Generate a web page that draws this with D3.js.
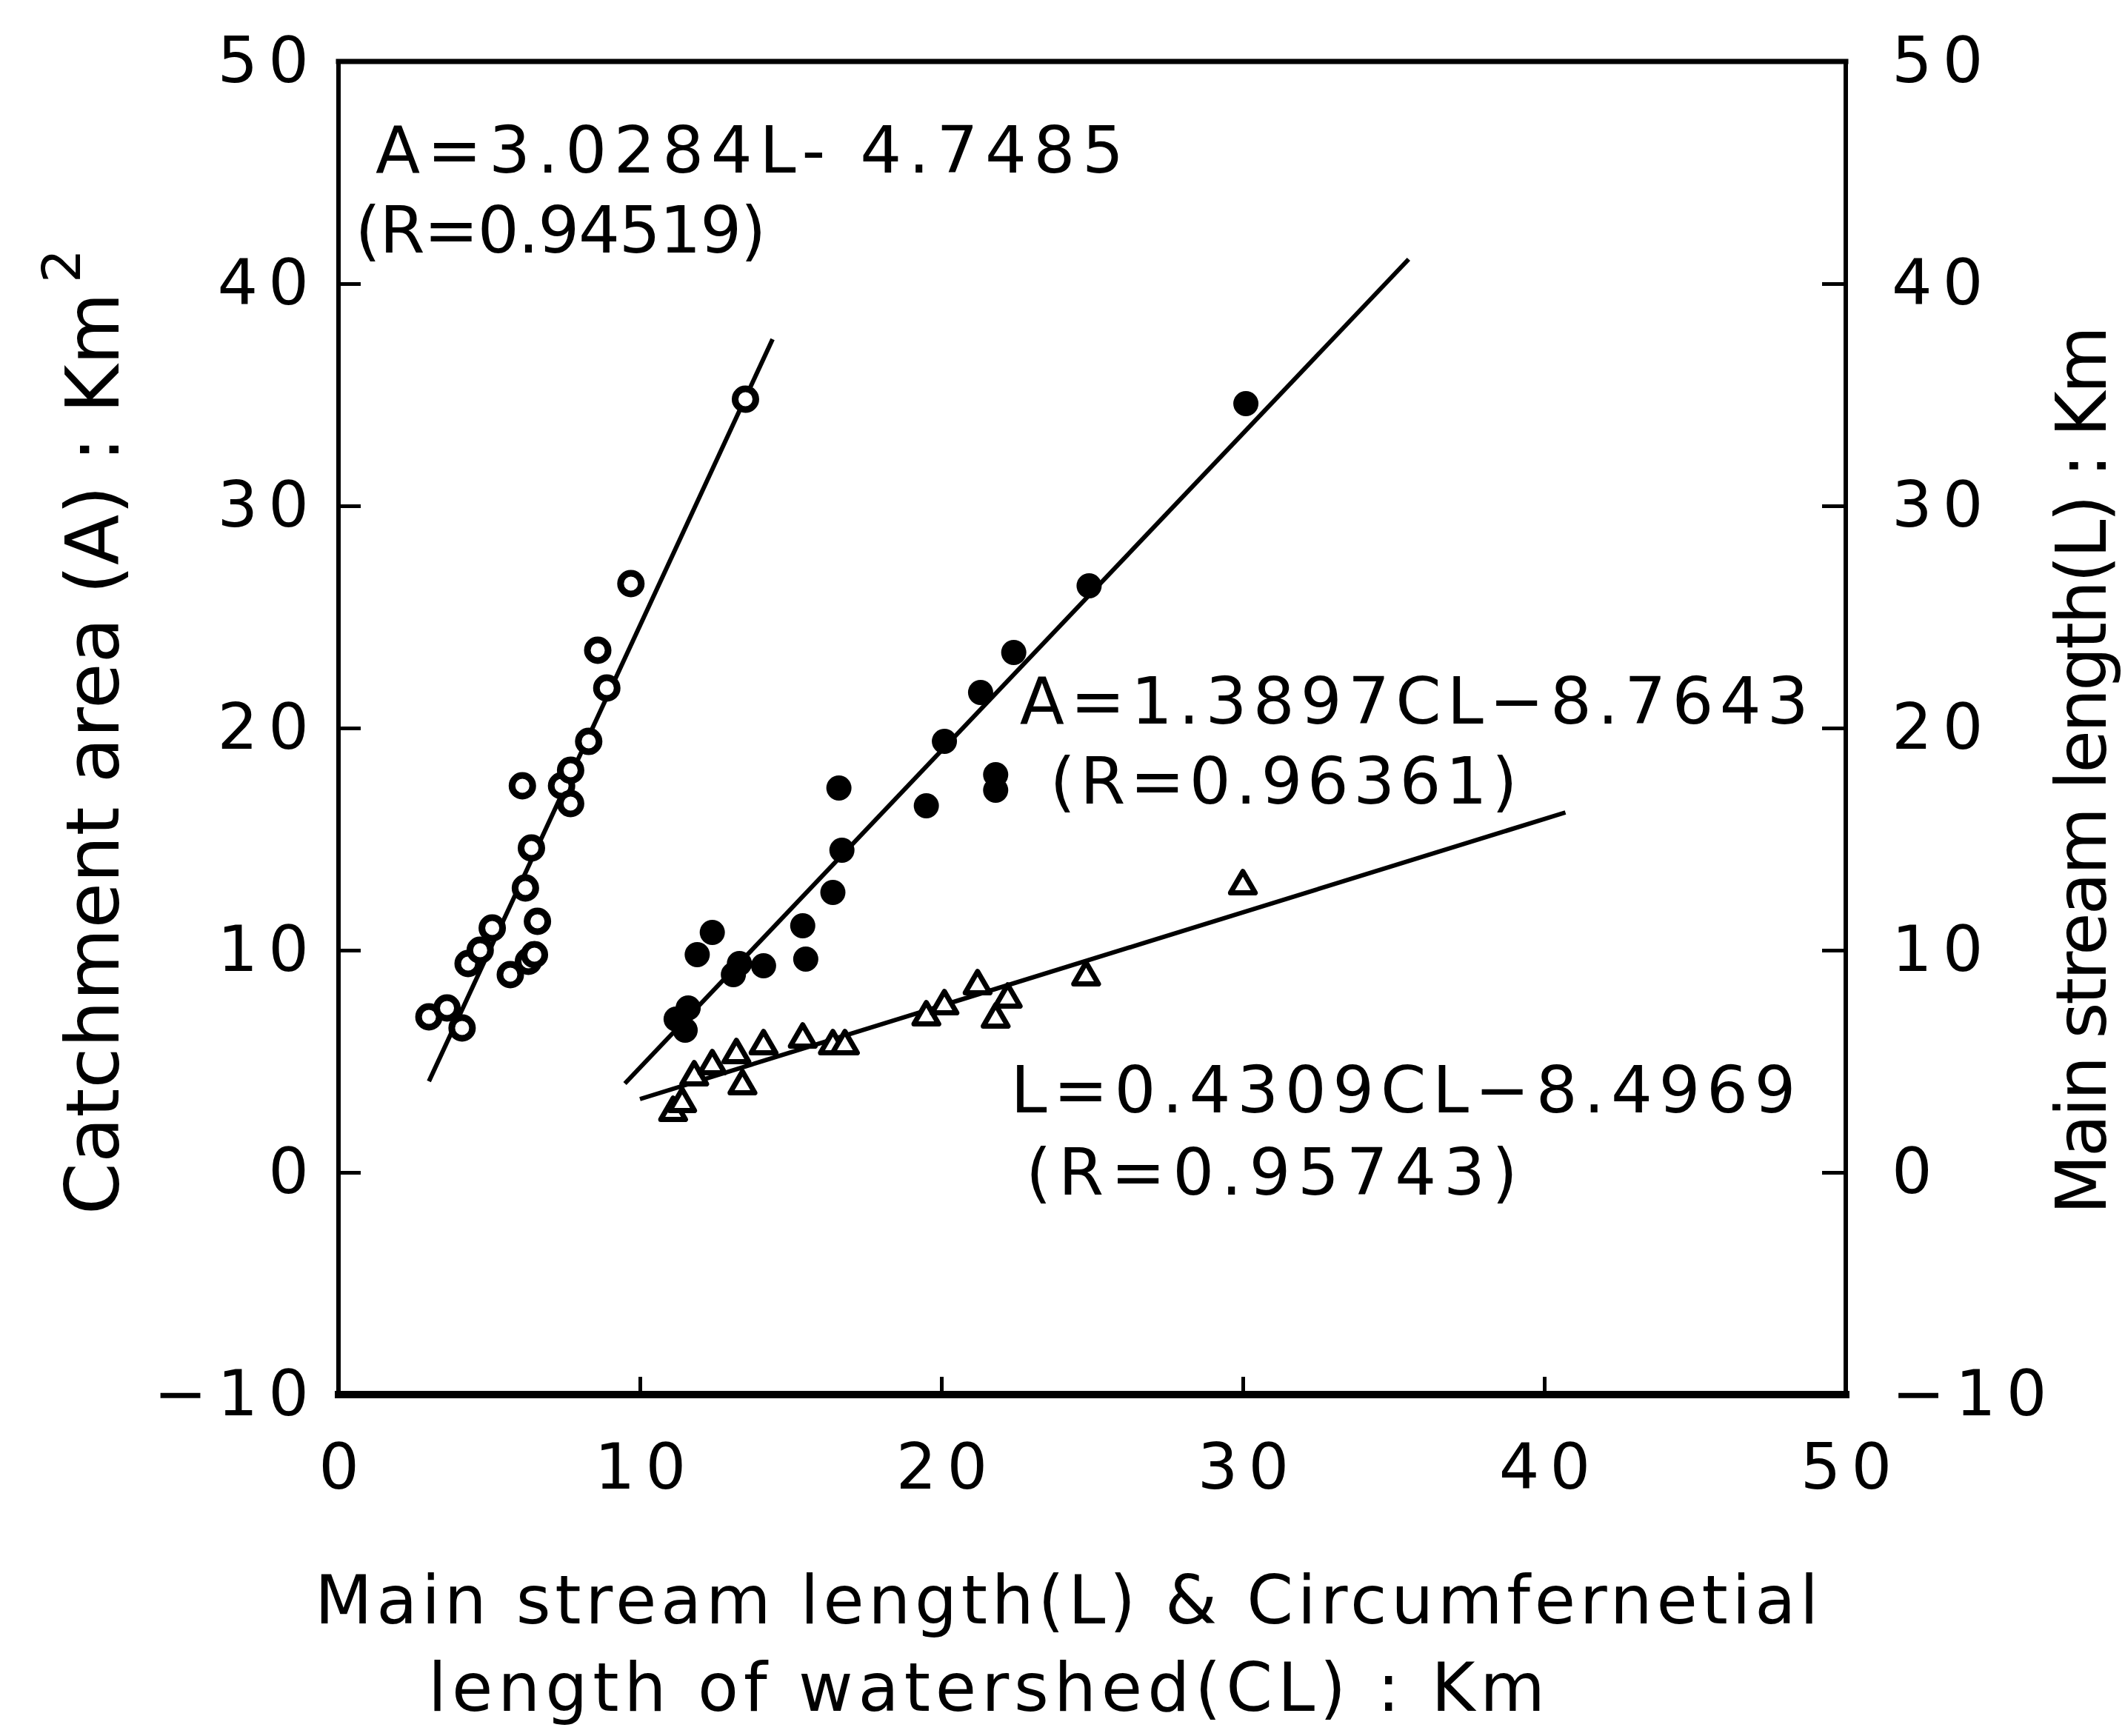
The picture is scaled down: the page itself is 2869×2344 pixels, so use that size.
<!DOCTYPE html>
<html>
  <head>
    <meta charset="utf-8">
    <title>Catchment area vs stream length</title>
    <script src="https://cdn.jsdelivr.net/npm/d3@7"></script>
    <style>
      body { margin: 0; background: #fff; }
      text { font-family: 'DejaVu Sans', sans-serif; fill: #000; }
    </style>
  </head>
  <body>
    <svg width='2869' height='2344'></svg>
    <script>
      // ---- data ----
      // open circles : main stream length L (km) vs catchment area A (km2)
      const openL = [3.0, 3.6, 4.1, 4.3, 4.7, 5.1, 5.7, 6.3, 6.5, 6.6, 6.2, 6.4, 6.1, 7.4, 7.7, 7.7, 8.3, 8.9, 8.6, 9.7, 13.5];
      const openA = [7.0, 7.4, 6.5, 9.4, 10.0, 11.0, 8.9, 9.5, 9.8, 11.3, 12.8, 14.6, 17.4, 17.4, 18.1, 16.6, 19.4, 21.8, 23.5, 26.5, 34.8];
      // filled circles : circumferential length CL vs catchment area A
      const fillCL = [11.2, 11.5, 11.6, 11.9, 12.4, 13.1, 13.3, 14.1, 15.4, 15.5, 16.4, 16.7, 16.6, 19.5, 20.1, 21.3, 21.8, 21.8, 22.4, 24.9, 30.1];
      const fillA  = [6.9, 6.4, 7.4, 9.8, 10.8, 8.9, 9.4, 9.3, 11.1, 9.6, 12.6, 14.5, 17.3, 16.5, 19.4, 21.6, 17.9, 17.2, 23.4, 26.4, 34.6];
      // triangles : circumferential length CL vs main stream length L (right axis)
      const triCL = [11.1, 11.4, 11.8, 12.4, 13.2, 13.4, 14.1, 15.4, 16.4, 16.8, 19.5, 20.1, 21.2, 21.8, 22.2, 24.8, 30.0];
      const triL  = [2.7, 3.1, 4.3, 4.8, 5.3, 3.9, 5.7, 6.0, 5.7, 5.7, 7.0, 7.5, 8.4, 6.9, 7.8, 8.8, 12.9];

      // fitted lines, drawn end points [x0, y0, x1, y1]
      const openFit = [3.0, 4.1, 14.4, 37.5];
      const fillFit = [9.5, 4.0, 35.5, 41.1];
      const triFit  = [10.0, 3.3, 40.7, 16.2];

      const equations = ['A=3.0284L- 4.7485', '(R=0.94519)', 'A=1.3897CL\u22128.7643', '(R=0.96361)', 'L=0.4309CL\u22128.4969', '(R=0.95743)'];

      const xTicks = [0, 10, 20, 30, 40, 50];
      const yTicks = [-10, 0, 10, 20, 30, 40, 50];

      const xTitle1 = 'Main stream length(L) & Circumfernetial';
      const xTitle2 = 'length of watershed(CL) : Km';
      const yTitleLeft = 'Catchment area (A) : Km';
      const yTitleRight = 'Main stream length(L) : Km';

      // ---- layout ----
      const svg = d3.select('svg');
      const x = d3.scaleLinear().domain([0, 50]).range([457, 2492]);
      const y = d3.scaleLinear().domain([-10, 50]).range([1883, 83]);

      // frame
      const frame = svg.append('g').attr('stroke', '#000').attr('stroke-linecap', 'square');
      frame.append('line').attr('x1', x(0)).attr('x2', x(50)).attr('y1', y(50)).attr('y2', y(50)).attr('stroke-width', 7);
      frame.append('line').attr('x1', x(0)).attr('x2', x(50)).attr('y1', y(-10)).attr('y2', y(-10)).attr('stroke-width', 10);
      frame.append('line').attr('x1', x(0)).attr('x2', x(0)).attr('y1', y(50)).attr('y2', y(-10)).attr('stroke-width', 6);
      frame.append('line').attr('x1', x(50)).attr('x2', x(50)).attr('y1', y(50)).attr('y2', y(-10)).attr('stroke-width', 6);

      // axes (ticks point inward)
      const styleAxis = g => {
        g.select('.domain').remove();
        g.selectAll('.tick line').attr('stroke', '#000').attr('stroke-width', 5);
        g.selectAll('.tick text')
          .attr('font-family', "'DejaVu Sans', sans-serif")
          .attr('font-size', 86)
          .attr('letter-spacing', 14)
          .attr('fill', '#000');
      };
      svg.append('g')
        .attr('transform', `translate(${x(0)},0)`)
        .call(d3.axisLeft(y).tickValues(yTicks).tickSize(-30).tickPadding(26))
        .call(styleAxis);
      svg.append('g')
        .attr('transform', `translate(${x(50)},0)`)
        .call(d3.axisRight(y).tickValues(yTicks).tickSize(-32).tickPadding(62))
        .call(styleAxis);
      svg.append('g')
        .attr('transform', `translate(0,${y(-10)})`)
        .call(d3.axisBottom(x).tickValues(xTicks).tickSize(-24).tickPadding(66))
        .call(styleAxis)
        .call(g => g.selectAll('.tick text').attr('dx', 7));

      // fit lines
      const fits = [openFit, fillFit, triFit];
      svg.append('g').selectAll('line').data(fits).join('line')
        .attr('x1', d => x(d[0])).attr('y1', d => y(d[1]))
        .attr('x2', d => x(d[2])).attr('y2', d => y(d[3]))
        .attr('stroke', '#000').attr('stroke-width', 6);

      // markers
      svg.append('g').selectAll('circle').data(d3.zip(openL, openA)).join('circle')
        .attr('cx', d => x(d[0])).attr('cy', d => y(d[1])).attr('r', 14)
        .attr('fill', '#fff').attr('stroke', '#000').attr('stroke-width', 9);
      svg.append('g').selectAll('circle').data(d3.zip(fillCL, fillA)).join('circle')
        .attr('cx', d => x(d[0])).attr('cy', d => y(d[1])).attr('r', 17)
        .attr('fill', '#000');
      const tri = d3.symbol().type(d3.symbolTriangle).size(480);
      svg.append('g').selectAll('path').data(d3.zip(triCL, triL)).join('path')
        .attr('transform', d => `translate(${x(d[0])},${y(d[1])})`)
        .attr('d', tri)
        .attr('fill', '#fff').attr('stroke', '#000').attr('stroke-width', 7).attr('stroke-linejoin', 'round');

      // equations, placed in data units: [x, y, text length in px]
      const eqPos = [[1.23, 45.0, 1010], [0.55, 41.4, 555], [22.6, 20.2, 1065], [23.6, 16.6, 631], [22.3, 2.7, 1060], [22.8, -1.0, 664]];
      svg.append('g').selectAll('text').data(equations).join('text')
        .attr('x', (d, i) => x(eqPos[i][0]))
        .attr('y', (d, i) => y(eqPos[i][1]))
        .attr('textLength', (d, i) => eqPos[i][2])
        .attr('font-size', 88)
        .text(d => d);

      // axis titles
      svg.append('text').attr('x', 425).attr('y', 2192).attr('font-size', 90)
        .attr('textLength', 2030).text(xTitle1);
      svg.append('text').attr('x', 578).attr('y', 2310).attr('font-size', 90)
        .attr('textLength', 1508).text(xTitle2);

      svg.append('text').attr('transform', 'translate(160,1640) rotate(-90)').attr('font-size', 100)
        .attr('textLength', 1245).text(yTitleLeft);
      svg.append('text').attr('transform', 'translate(108,382) rotate(-90)').attr('font-size', 72)
        .text('2');

      svg.append('text').attr('transform', 'translate(2843,1640) rotate(-90)').attr('font-size', 94)
        .attr('textLength', 1200).text(yTitleRight);
    </script>
  </body>
</html>
